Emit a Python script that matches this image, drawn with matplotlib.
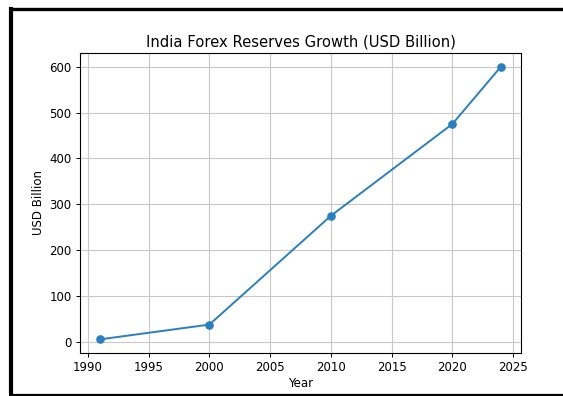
import matplotlib.pyplot as plt
from matplotlib.lines import Line2D

# data
years = [1991, 2000, 2010, 2020, 2024]
reserves = [5.8, 38, 275, 475, 600]

fig = plt.figure(figsize=(5.63, 3.96), dpi=100)
ax = fig.add_axes([0.1421, 0.1086, 0.7833, 0.7576])

ax.plot(years, reserves, marker="o", color="#2a7fbf", linewidth=1.4, markersize=5.2)
ax.set_title("India Forex Reserves Growth (USD Billion)", fontsize=10.6, pad=5)
ax.set_xlabel("Year", fontsize=8.5, labelpad=2)
ax.set_ylabel("USD Billion", fontsize=8.5, labelpad=3)
ax.tick_params(labelsize=8.5, length=3, width=0.7, pad=3)
for s in ax.spines.values():
    s.set_linewidth(0.8)
ax.grid(True, linewidth=0.8, color="#c8c8c8")

# black screenshot frame round the chart
W, H = 563, 396
def px_line(x0, y0, x1, y1, lw):
    fig.add_artist(Line2D([x0 / W, x1 / W], [1 - y0 / H, 1 - y1 / H],
                          transform=fig.transFigure, color="black", linewidth=lw))

px_line(11, 8.5, W, 8.5, 2.4)
px_line(11, 8.5, 11, 394.5, 3.0)
px_line(11, 394.5, W, 394.5, 1.6)

fig.savefig("out.png", dpi=100)
